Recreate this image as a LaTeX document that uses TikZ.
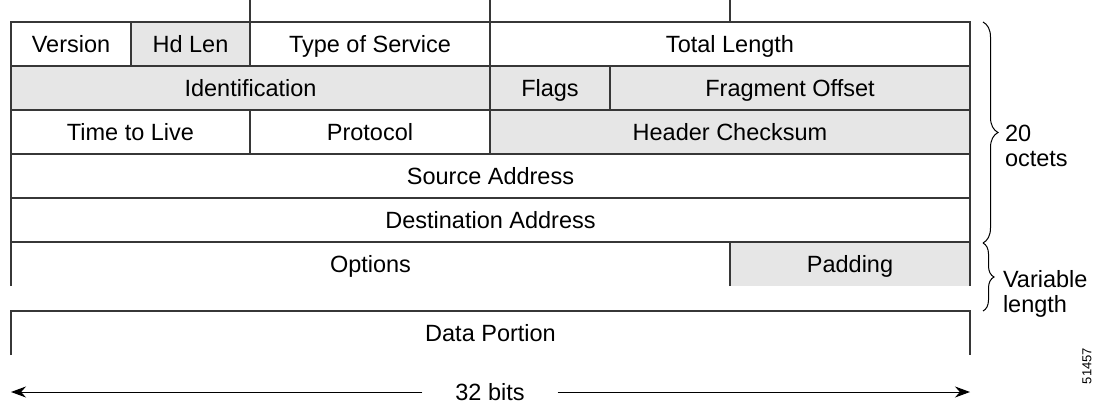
\documentclass[tikz,border=0pt]{standalone}
\usepackage{fontspec}
\setmainfont{Liberation Sans}
\usetikzlibrary{decorations.pathreplacing,arrows.meta}
\definecolor{linegray}{RGB}{55,55,55}
\definecolor{fillgray}{RGB}{230,230,230}
\begin{document}
\begin{tikzpicture}[x=1pt,y=-1pt,
  base/.style={inner sep=0pt,outer sep=0pt,font=\fontsize{23.5}{25}\selectfont,text height=17pt,text depth=0pt},
  field/.style={base,draw=linegray,line width=1.2pt,fill=white},
  gfield/.style={field,fill=fillgray},
  openfield/.style={base,fill=white},
  gopenfield/.style={base,fill=fillgray},
  edge/.style={draw=linegray,line width=1.2pt},
  bracestyle/.style={draw=black,line width=1pt,decorate,decoration={brace,amplitude=#1}},
  arr/.style={draw=black,line width=1pt,-{Stealth[length=15pt,width=11pt]}},
  lbl/.style={inner sep=0pt,outer sep=0pt,font=\fontsize{23.5}{25}\selectfont,align=left,anchor=west}
]
\useasboundingbox (0,0) rectangle (1101,404);
% Row 1
\node[field,minimum width=120pt,minimum height=44pt] (ver) at (71,44) {Version};
\node[gfield,minimum width=119pt,minimum height=44pt] (hdl) at (190.5,44) {Hd Len};
\node[field,minimum width=240pt,minimum height=44pt] (tos) at (370,44) {Type of Service};
\node[field,minimum width=480pt,minimum height=44pt] (tot) at (730,44) {Total Length};
% Row 2
\node[gfield,minimum width=479pt,minimum height=44pt] (ident) at (250.5,88) {Identification};
\node[gfield,minimum width=120pt,minimum height=44pt] (flags) at (550,88) {Flags};
\node[gfield,minimum width=360pt,minimum height=44pt] (frag) at (790,88) {Fragment Offset};
% Row 3
\node[field,minimum width=239pt,minimum height=44pt] (ttl) at (130.5,132) {Time to Live};
\node[field,minimum width=240pt,minimum height=44pt] (proto) at (370,132) {Protocol};
\node[gfield,minimum width=480pt,minimum height=44pt] (chk) at (730,132) {Header Checksum};
% Row 4, 5
\node[field,minimum width=959pt,minimum height=44pt] (src) at (490.5,176) {Source Address};
\node[field,minimum width=959pt,minimum height=44pt] (dst) at (490.5,220) {Destination Address};
% Row 6 (open bottom)
\node[openfield,minimum width=719pt,minimum height=44pt] (opt) at (370.5,264) {Options};
\node[gopenfield,minimum width=240pt,minimum height=44pt] (pad) at (850,264) {Padding};
\draw[edge] (opt.south west) |- (pad.north east) -- (pad.south east);
\draw[edge] (pad.south west) -- (pad.north west);
% Data portion (open bottom)
\node[openfield,minimum width=959pt,minimum height=44pt] (data) at (490.5,333) {Data Portion};
\draw[edge] (data.south west) -- (data.north west) -- (data.north east) -- (data.south east);
% Ticks above
\coordinate (t1) at (250,0);
\coordinate (t2) at (490,0);
\coordinate (t3) at (730,0);
\draw[edge] (tos.north west) -- (t1);
\draw[edge] (tos.north east) -- (t2);
\draw[edge] (tot.north) -- (t3);
% Braces
\coordinate (b1t) at (983,22);
\coordinate (b1b) at (983,243);
\coordinate (b2t) at (983,243);
\coordinate (b2b) at (983,311);
\draw[bracestyle=15pt] (b1t) -- (b1b);
\draw[bracestyle=11pt] (b2t) -- (b2b);
\node[lbl] (oct) at (1005,146) {20\\octets};
\node[lbl] (var) at (1003,294) {Variable\\length};
% 32 bits arrow
\node[base,inner xsep=33pt] (bits) at (490,392) {32 bits};
\coordinate (aL) at (11,392);
\coordinate (aR) at (970,392);
\draw[arr] (bits.west) -- (aL);
\draw[arr] (bits.east) -- (aR);
% figure number
\node[inner sep=0pt,rotate=90,font=\fontsize{13}{14}\selectfont] (fig) at (1087,366) {51457};
\end{tikzpicture}
\end{document}
